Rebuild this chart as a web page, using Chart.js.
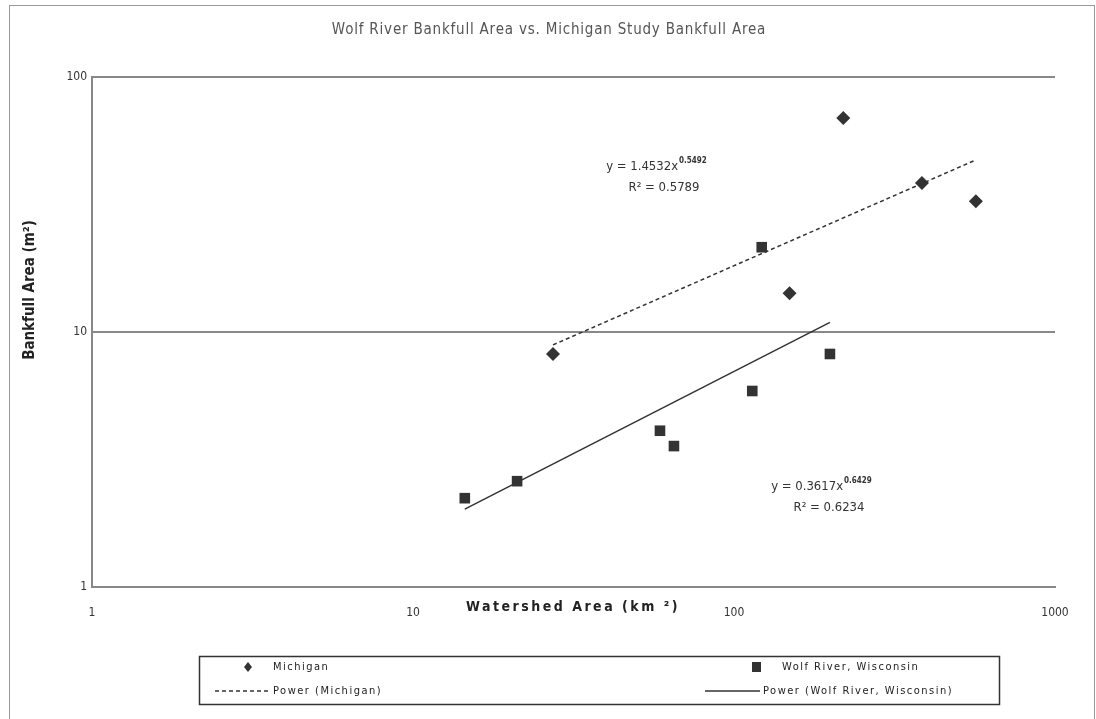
<!DOCTYPE html>
<html>
<head>
<meta charset="utf-8">
<script src="https://cdn.jsdelivr.net/npm/chart.js@4"></script>
<style>
    html, body { margin: 0; padding: 0; background: #fff; }
    #wrap { width: 1096px; height: 719px; position: relative; }
</style>
</head>
<body>
<div id="wrap"><canvas id="chart" width="1096" height="719"></canvas></div>
<script>
// Data
const michiganX = [27.3, 149, 219, 385, 567];
const michiganY = [8.2, 14.2, 69, 38.4, 32.6];
const wolfX = [14.5, 21.1, 58.8, 65, 114, 122, 199];
const wolfY = [2.23, 2.6, 4.1, 3.57, 5.87, 21.5, 8.2];

// Trend line end points (power fits are straight on log-log axes)
const michiganTrendX = [27.3, 567];
const michiganTrendY = [8.9, 47.3];
const wolfTrendX = [14.5, 199];
const wolfTrendY = [2.02, 10.9];

const xTicks = [1, 10, 100, 1000];
const yTicks = [1, 10, 100];

const titleText = 'Wolf River Bankfull Area vs. Michigan Study Bankfull Area';
const xTitle = 'Watershed Area (km ²)';
const yTitle = 'Bankfull Area (m²)';

const toPoints = (xs, ys) => xs.map((x, i) => ({ x: x, y: ys[i] }));

const markColor = '#333333';

// Draws title, axis titles, equations, legend box and the outer frame
const decorations = {
    id: 'decorations',
    afterDraw(chart) {
        const ctx = chart.ctx;
        ctx.save();

        // outer frame (bottom edge is cut off in the reference)
        ctx.strokeStyle = '#999';
        ctx.lineWidth = 1;
        ctx.strokeRect(9.5, 5.5, 1085, 800);

        // title
        ctx.fillStyle = '#555';
        ctx.font = '15px "DejaVu Sans Condensed", "DejaVu Sans", sans-serif';
        ctx.textAlign = 'center';
        ctx.textBaseline = 'middle';
        ctx.letterSpacing = '0.8px';
        ctx.fillText(titleText, 549, 30);

        // x axis title
        ctx.fillStyle = '#222';
        ctx.font = 'bold 14px "DejaVu Sans Condensed", "DejaVu Sans", sans-serif';
        ctx.letterSpacing = '2.5px';
        ctx.fillText(xTitle, 573, 607);
        ctx.letterSpacing = '0px';

        // y axis title
        ctx.save();
        ctx.translate(30, 290);
        ctx.rotate(-Math.PI / 2);
        ctx.font = 'bold 15px "DejaVu Sans Condensed", "DejaVu Sans", sans-serif';
        ctx.fillText(yTitle, 0, 0);
        ctx.restore();

        // equations
        const eq = (x, y, coef, exp, r2) => {
            ctx.fillStyle = '#333';
            ctx.font = '13px "DejaVu Sans Condensed", "DejaVu Sans", sans-serif';
            ctx.textAlign = 'left';
            const main = 'y = ' + coef + 'x';
            const w = ctx.measureText(main).width;
            ctx.font = 'bold 8px "DejaVu Sans Condensed", "DejaVu Sans", sans-serif';
            const we = ctx.measureText(exp).width;
            const left = x - (w + we) / 2;
            ctx.font = '13px "DejaVu Sans Condensed", "DejaVu Sans", sans-serif';
            ctx.fillText(main, left, y);
            ctx.font = 'bold 8px "DejaVu Sans Condensed", "DejaVu Sans", sans-serif';
            ctx.fillText(exp, left + w + 1, y - 6);
            ctx.font = '13px "DejaVu Sans Condensed", "DejaVu Sans", sans-serif';
            ctx.textAlign = 'center';
            ctx.fillText(r2, x + 8, y + 21);
        };
        eq(656, 167, '1.4532', '0.5492', 'R² = 0.5789');
        eq(821, 487, '0.3617', '0.6429', 'R² = 0.6234');

        // legend box
        ctx.strokeStyle = '#333';
        ctx.lineWidth = 1.5;
        ctx.strokeRect(199.5, 656.5, 800, 48);

        ctx.font = '11px "DejaVu Sans Condensed", "DejaVu Sans", sans-serif';
        ctx.letterSpacing = '1.5px';
        ctx.textAlign = 'left';

        // diamond
        ctx.fillStyle = markColor;
        ctx.beginPath();
        ctx.moveTo(248, 662); ctx.lineTo(252, 667); ctx.lineTo(248, 672); ctx.lineTo(244, 667);
        ctx.closePath(); ctx.fill();
        // square
        ctx.fillRect(752, 662, 9, 10);

        ctx.fillStyle = '#222';
        ctx.fillText('Michigan', 273, 667);
        ctx.fillText('Wolf River, Wisconsin', 782, 667);
        ctx.fillText('Power (Michigan)', 273, 691);
        ctx.fillText('Power (Wolf River, Wisconsin)', 763, 691);
        ctx.letterSpacing = '0px';

        ctx.strokeStyle = markColor;
        ctx.lineWidth = 1.3;
        ctx.setLineDash([4, 3]);
        ctx.beginPath(); ctx.moveTo(215, 691); ctx.lineTo(270, 691); ctx.stroke();
        ctx.setLineDash([]);
        ctx.beginPath(); ctx.moveTo(705, 691); ctx.lineTo(760, 691); ctx.stroke();

        ctx.restore();
    }
};

const ctx = document.getElementById('chart').getContext('2d');
const chart = new Chart(ctx, {
    type: 'scatter',
    data: {
        datasets: [
            {
                label: 'Michigan',
                data: toPoints(michiganX, michiganY),
                pointStyle: 'rectRot',
                pointRadius: 7,
                backgroundColor: markColor,
                borderColor: markColor,
                borderWidth: 0
            },
            {
                label: 'Wolf River, Wisconsin',
                data: toPoints(wolfX, wolfY),
                pointStyle: 'rect',
                pointRadius: 7.5,
                backgroundColor: markColor,
                borderColor: markColor,
                borderWidth: 0
            },
            {
                label: 'Power (Michigan)',
                data: toPoints(michiganTrendX, michiganTrendY),
                showLine: true,
                pointRadius: 0,
                borderColor: markColor,
                borderWidth: 1.5,
                borderDash: [4, 3]
            },
            {
                label: 'Power (Wolf River, Wisconsin)',
                data: toPoints(wolfTrendX, wolfTrendY),
                showLine: true,
                pointRadius: 0,
                borderColor: markColor,
                borderWidth: 1.5
            }
        ]
    },
    options: {
        responsive: false,
        animation: false,
        layout: { padding: { left: 0, top: 77, right: 41, bottom: 0 } },
        plugins: {
            legend: { display: false },
            title: { display: false },
            tooltip: { enabled: false }
        },
        scales: {
            x: {
                type: 'logarithmic',
                min: 1,
                max: 1000,
                afterBuildTicks: (scale) => { scale.ticks = xTicks.map(v => ({ value: v })); },
                afterFit: (scale) => { scale.height = 719 - 587; },
                grid: { display: false, drawTicks: false },
                border: { display: true, color: '#888', width: 2 },
                ticks: {
                    padding: 19,
                    color: '#333',
                    font: { family: 'DejaVu Sans Condensed', size: 12 },
                    maxRotation: 0,
                    autoSkip: false,
                    callback: (v) => String(v)
                }
            },
            y: {
                type: 'logarithmic',
                min: 1,
                max: 100,
                afterBuildTicks: (scale) => { scale.ticks = yTicks.map(v => ({ value: v })); },
                afterFit: (scale) => { scale.width = 92; },
                grid: { display: true, drawTicks: false, color: '#888', lineWidth: 2 },
                border: { display: true, color: '#888', width: 2 },
                ticks: {
                    padding: 5,
                    color: '#333',
                    font: { family: 'DejaVu Sans Condensed', size: 12 },
                    autoSkip: false,
                    callback: (v) => String(v)
                }
            }
        }
    },
    plugins: [decorations]
});
</script>
</body>
</html>
